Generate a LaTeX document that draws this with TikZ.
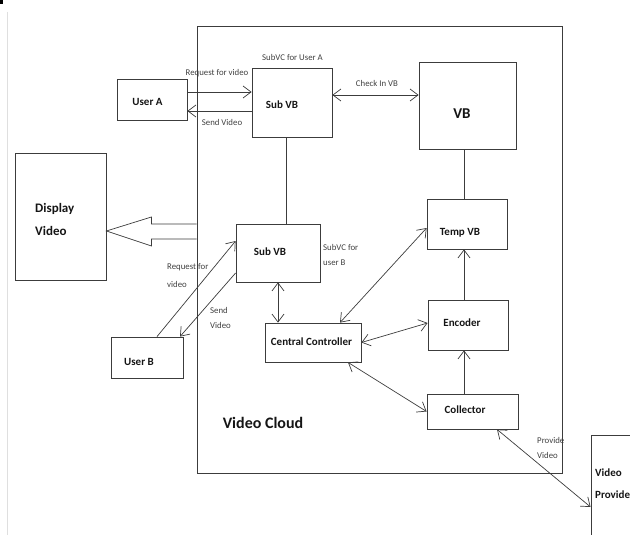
\documentclass[tikz,border=0pt]{standalone}
\usepackage{fontspec}
\setmainfont{Carlito}
\usetikzlibrary{arrows.meta,calc}
\definecolor{linec}{HTML}{3C3C3C}
\definecolor{labc}{HTML}{404040}
\definecolor{boldc}{HTML}{151515}
\tikzset{
  box/.style={draw=linec, line width=0.8pt, inner sep=0pt},
  bt/.style={font=\bfseries\fontsize{11}{13}\selectfont, text=boldc, inner sep=0pt},
  lbl/.style={font=\fontsize{8.8}{15}\selectfont, text=labc, inner sep=0pt, align=left},
  ln/.style={draw=linec, line width=0.7pt},
  barb/.tip={Straight Barb[length=8pt,width=12pt,line width=0.7pt]},
  arr/.style={ln, -barb},
  darr/.style={ln, barb-barb}
}
\begin{document}
\begin{tikzpicture}[x=1pt,y=-1pt]
\useasboundingbox (0,0) rectangle (630,535);
\clip (0,0) rectangle (630,535);
% page artefacts
\fill[black] (0,0) rectangle (3,4);
\draw[gray!25, line width=0.8pt] (7,12) -- (7,535);

% Video Cloud frame
\node[box, minimum width=365pt, minimum height=447pt] (cloud) at (379.5,249.5) {};
\node[font=\bfseries\fontsize{16}{18}\selectfont, text=boldc, inner sep=0pt] (cloudtxt) at (263,423) {Video Cloud};

% boxes
\node[box, minimum width=70pt, minimum height=41pt,
      label={[bt,shift={(-4.5pt,-2.5pt)}]center:User A}] (usera) at (152,99.5) {};
\node[box, minimum width=80pt, minimum height=69pt,
      label={[bt,shift={(-10pt,-2.5pt)}]center:Sub VB}] (subA) at (292,102.5) {};
\node[box, minimum width=97pt, minimum height=87pt,
      label={[bt,font=\bfseries\fontsize{15}{17}\selectfont,shift={(-5.5pt,-8.5pt)}]center:VB}] (vb) at (467.5,105.5) {};
\node[box, minimum width=80pt, minimum height=50pt,
      label={[bt,shift={(-7pt,-9pt)}]center:Temp VB}] (temp) at (467,224) {};
\node[box, minimum width=80pt, minimum height=50pt,
      label={[bt,shift={(-6pt,2pt)}]center:Encoder}] (enc) at (468,325) {};
\node[box, minimum width=91pt, minimum height=35pt,
      label={[bt,shift={(-7.5pt,1.5pt)}]center:Collector}] (coll) at (472.5,411.5) {};
\node[box, minimum width=96pt, minimum height=39pt,
      label={[bt,shift={(-1.5pt,0.5pt)}]center:Central Controller}] (cc) at (313,342.5) {};
\node[box, minimum width=84pt, minimum height=58pt,
      label={[bt,shift={(-8pt,1pt)}]center:Sub VB}] (subB) at (278,253) {};
\node[box, minimum width=72pt, minimum height=41pt,
      label={[bt,shift={(-8pt,-4.5pt)}]center:User B}] (userb) at (147,357.5) {};
\node[box, minimum width=91pt, minimum height=127pt] (dv) at (60.5,216.5) {};
\node[bt, font=\bfseries\fontsize{13}{23}\selectfont, align=left, anchor=west] (dvtxt) at (35,219) {Display\\Video};
\node[box, minimum width=100pt, minimum height=150pt] (vp) at (641,510) {};
\node[bt, font=\bfseries\fontsize{11}{22}\selectfont, align=left, anchor=west] (vptxt) at (595,484) {Video\\Provide};

% labels
\node[lbl] (lsubA) at (292.5,57) {SubVC for User A};
\node[lbl] (lreqA) at (217,73) {Request for video};
\node[lbl] (lsendA) at (222,122) {Send Video};
\node[lbl] (lcheck) at (377,83) {Check In VB};
\node[lbl, anchor=west] (lsubB) at (323,254.5) {SubVC for\\user B};
\node[lbl, anchor=west, font=\fontsize{8.8}{18}\selectfont] (lreqB) at (167,276) {Request for\\video};
\node[lbl, anchor=west] (lsendB) at (210,317.5) {Send\\Video};
\node[lbl, anchor=west] (lprov) at (537,447.5) {Provide\\Video};

% connectors
\draw[arr] ([yshift=7.5pt]usera.east) -- ([yshift=7.5pt]usera.east -| subA.west);
\draw[arr] ([yshift=-11.5pt]usera.east -| subA.west) -- ([yshift=-11.5pt]usera.east);
\draw[darr] ([yshift=7.5pt]subA.east) -- ([yshift=7.5pt]subA.east -| vb.west);
\draw[ln] ([xshift=-6pt]subA.south) -- ([xshift=-6pt]subA.south |- subB.north);
\draw[ln] ([xshift=-3.5pt]vb.south) -- ([xshift=-3.5pt]vb.south |- temp.north);
\draw[arr] ([xshift=-4pt]enc.north) -- ([xshift=-4pt]enc.north |- temp.south);
\draw[arr] ([xshift=-8.5pt]coll.north) -- ([xshift=-8.5pt]coll.north |- enc.south);
\draw[darr] (subB.south) -- (subB.south |- cc.north);
\draw[darr] ([xshift=27pt]cc.north) -- ([yshift=-4pt]temp.west);
\draw[darr] (cc.east) -- ([yshift=2pt]enc.west);
\draw[darr] ([xshift=35pt]cc.south) -- (coll.west);
\draw[arr] ([xshift=10pt]userb.north) -- ([yshift=12pt]subB.west);
\draw[arr] ([yshift=-20pt]subB.west) -- ([xshift=33pt]userb.north);
\draw[darr] ([xshift=24.5pt]coll.south) -- ([yshift=3pt]vp.west);

% big hollow arrow from the cloud to Display Video
\coordinate (tip) at ([yshift=-14.5pt]dv.east);
\draw[ln, line join=miter] (tip -| cloud.west) ++(0,-7) -- ($(tip)+(45,-7)$) -- ($(tip)+(45,-14)$) -- (tip)
  -- ($(tip)+(45,15)$) -- ($(tip)+(45,8)$) -- ($(tip -| cloud.west)+(0,8)$);
\end{tikzpicture}
\end{document}
